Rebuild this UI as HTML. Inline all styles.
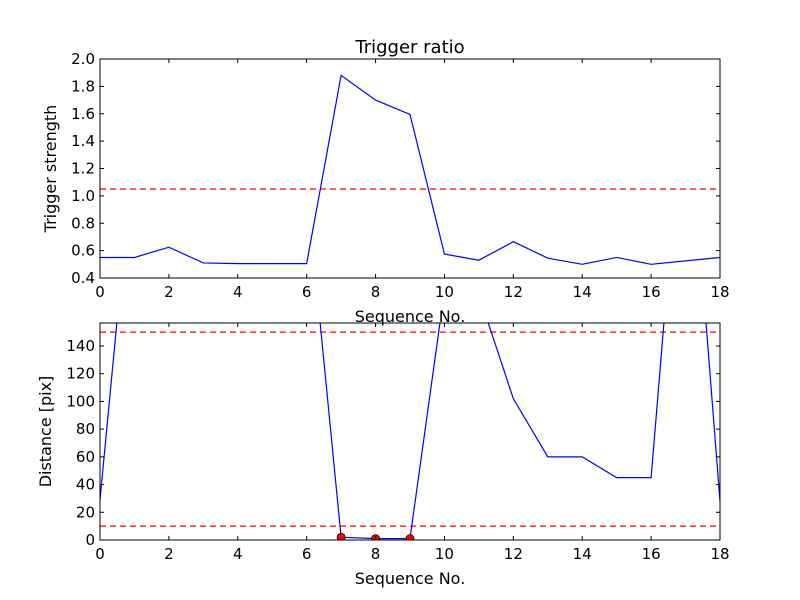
<!DOCTYPE html>
<html><head><meta charset="utf-8"><style>
body{margin:0;background:#fff;}
svg{display:block;font-family:"DejaVu Sans","Liberation Sans",sans-serif;}
</style></head><body>
<svg id="chart" width="800" height="600"></svg>
<script>
const seq = [0,1,2,3,4,5,6,7,8,9,10,11,12,13,14,15,16,17,18];
const ratio = [0.55,0.55,0.625,0.51,0.505,0.505,0.505,1.88,1.70,1.595,0.575,0.53,0.665,0.545,0.50,0.55,0.50,0.525,0.55];
const ratioThreshold = [1.05];
const distance = [29,290,290,290,290,290,256,2,1,1,180,177,102,60,60,45,45,345,28];
const distThresholds = [10,150];
const hitIdx = [7,8,9];
const xTicks = [0,2,4,6,8,10,12,14,16,18];
const yTicksTop = [0.4,0.6,0.8,1.0,1.2,1.4,1.6,1.8,2.0];
const yTicksBot = [0,20,40,60,80,100,120,140];

const NS="http://www.w3.org/2000/svg";
const svg=document.getElementById('chart');
function mk(tag,attrs,parent,name){const e=document.createElementNS(NS,tag);for(const k in attrs)e.setAttribute(k,attrs[k]);


(parent||svg).appendChild(e);return e;}

function panel(cfg){
  const {top,bot,ymin,ymax,yT,fmt,name}=cfg;
  const L=100,R=720;
  const X=v=>L+(v-0)/(18-0)*(R-L);
  const Y=v=>bot-(v-ymin)/(ymax-ymin)*(bot-top);
  const g=mk('g',{},svg,name);
  const cid='clip-'+name;
  const cp=mk('clipPath',{id:cid},g,name+'-clip');
  mk('rect',{x:L,y:top,width:R-L,height:bot-top},cp,name+'-clip-rect');
  const plot=mk('g',{'clip-path':'url(#'+cid+')'},g,name+'-plot');
  cfg.draw(plot,X,Y);
  mk('rect',{x:L,y:top,width:R-L,height:bot-top,fill:'none',stroke:'#000','stroke-width':1},g,name+'-frame');
  xTicks.forEach(t=>{const x=X(t);
    mk('line',{x1:x,x2:x,y1:bot,y2:bot-4,stroke:'#000'},g,'x-tick');
    mk('line',{x1:x,x2:x,y1:top,y2:top+4,stroke:'#000'},g,'x-tick');
    const tx=mk('text',{x:x,y:bot+19,'text-anchor':'middle','font-size':15},g,'x-tick-label');tx.textContent=t;});
  yT.forEach(t=>{const y=Y(t);
    mk('line',{x1:L,x2:L+4,y1:y,y2:y,stroke:'#000'},g,'y-tick');
    mk('line',{x1:R,x2:R-4,y1:y,y2:y,stroke:'#000'},g,'y-tick');
    const tx=mk('text',{x:L-5,y:y+5,'text-anchor':'end','font-size':15},g,'y-tick-label');tx.textContent=fmt(t);});
  const xl=mk('text',{x:410,y:bot+44,'text-anchor':'middle','font-size':16},g,'x-axis-title');xl.textContent='Sequence No.';
  const yl=mk('text',{x:0,y:0,'text-anchor':'middle','font-size':16,transform:`translate(${cfg.ylx},${(top+bot)/2}) rotate(-90)`},g,'y-axis-title');yl.textContent=cfg.ylabel;
}
function path(vals,X,Y){return vals.map((v,i)=>(i?'L':'M')+X(seq[i])+','+Y(v)).join(' ');}

panel({name:'ratio-panel',top:59,bot:278,ymin:0.4,ymax:2.0,yT:yTicksTop,fmt:t=>t.toFixed(1),ylabel:'Trigger strength',ylx:56,
 draw:(p,X,Y)=>{
  ratioThreshold.forEach(t=>mk('line',{x1:100,x2:720,y1:Y(t),y2:Y(t),stroke:'#f00','stroke-dasharray':'6,4','stroke-width':1.2},p,'threshold-line'));
  mk('path',{d:path(ratio,X,Y),fill:'none',stroke:'#00f','stroke-width':1.2},p,'ratio-line');
 }});
panel({name:'distance-panel',top:323,bot:540,ymin:0,ymax:156.6,yT:yTicksBot,fmt:t=>t,ylabel:'Distance [pix]',ylx:51,
 draw:(p,X,Y)=>{
  distThresholds.forEach(t=>mk('line',{x1:100,x2:720,y1:Y(t),y2:Y(t),stroke:'#f00','stroke-dasharray':'6,4','stroke-width':1.2},p,'threshold-line'));
  mk('path',{d:path(distance,X,Y),fill:'none',stroke:'#00f','stroke-width':1.2},p,'distance-line');
  hitIdx.forEach(i=>mk('circle',{cx:X(seq[i]),cy:Y(distance[i]),r:4,fill:'#f00',stroke:'#000','stroke-width':0.8},p,'hit-marker'));
 }});
const title=mk('text',{x:410,y:53,'text-anchor':'middle','font-size':18},svg,'chart-title');title.textContent='Trigger ratio';
</script>
</body></html>
